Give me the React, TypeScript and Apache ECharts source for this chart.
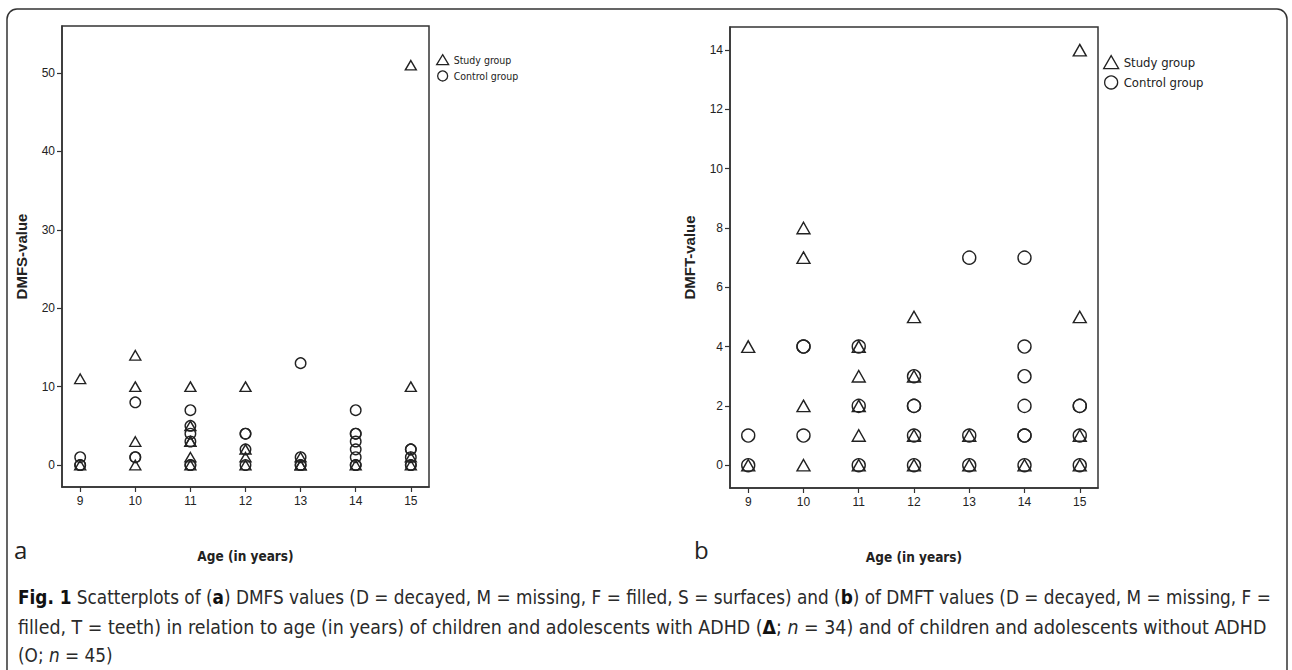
import React, { useEffect, useRef } from "react";
import * as echarts from "echarts";

// ---- data ----
const ages = [9, 10, 11, 12, 13, 14, 15];
// values per age (same order as ages)
const dmfsStudy = [[11, 0], [14, 10, 3, 0], [10, 5, 3, 3, 1, 0], [10, 2, 1, 0], [1, 0, 0], [0], [51, 10, 1, 0]];
const dmfsControl = [[1, 0, 0], [8, 1, 1], [7, 5, 4, 3, 0, 0], [4, 4, 2, 0], [13, 1, 0, 0], [7, 4, 4, 3, 2, 1, 0, 0], [2, 2, 1, 0, 0]];
const dmftStudy = [[4, 0], [8, 7, 2, 0], [4, 3, 2, 1, 0], [5, 3, 1, 0], [1, 0], [0], [14, 5, 1, 0]];
const dmftControl = [[1, 0], [4, 4, 1], [4, 2, 0], [3, 2, 2, 1, 0], [7, 1, 0], [7, 4, 3, 2, 1, 1, 0], [2, 2, 1, 0]];
const yTicksDMFS = [0, 10, 20, 30, 40, 50];
const yTicksDMFT = [0, 2, 4, 6, 8, 10, 12, 14];
const seriesNames = ["Study group", "Control group"];

const NARROW = "'Liberation Sans Narrow', 'DejaVu Sans Condensed', 'Arial Narrow', sans-serif";
const SANS = "'Liberation Sans', Arial, sans-serif";

function toPoints(groups: number[][]) {
  const out: number[][] = [];
  groups.forEach((vals, i) => vals.forEach((v) => out.push([ages[i], v])));
  return out;
}

export default function App() {
  const ref = useRef<HTMLDivElement>(null);
  useEffect(() => {
    if (!ref.current) return;
    const chart = echarts.init(ref.current, null, { renderer: "svg" });
    const stroke = "#222";
    const xAxisBase = (gridIndex: number) => ({
      type: "value",
      gridIndex,
      min: 8.67,
      max: 15.33,
      name: "Age (in years)",
      nameLocation: "middle",
      nameGap: 62,
      nameTextStyle: { fontFamily: NARROW, fontWeight: "bold", fontSize: 13.5, color: "#222" },
      axisLine: { show: true, onZero: false, lineStyle: { color: "#333", width: 1.5 } },
      axisTick: { show: true, inside: false, length: 5, customValues: ages, lineStyle: { color: "#333", width: 1.2 } },
      axisLabel: { customValues: ages, margin: 8, fontSize: 12, color: "#222", fontFamily: SANS },
      splitLine: { show: false },
    });
    const yAxisBase = (gridIndex: number, min: number, max: number, ticks: number[], name: string) => ({
      type: "value",
      gridIndex,
      min,
      max,
      name,
      nameLocation: "middle",
      nameRotate: 90,
      nameGap: 33,
      nameTextStyle: { fontFamily: SANS, fontWeight: "bold", fontSize: 15, color: "#222" },
      axisLine: { show: true, onZero: false, lineStyle: { color: "#333", width: 1.5 } },
      axisTick: { show: true, inside: false, length: 5, customValues: ticks, lineStyle: { color: "#333", width: 1.2 } },
      axisLabel: { customValues: ticks, margin: 7, fontSize: 12, color: "#222", fontFamily: SANS },
      splitLine: { show: false },
    });
    const mk = (name: string, xi: number, groups: number[][], symbol: string, size: any, z: number) => ({
      type: "scatter",
      name,
      xAxisIndex: xi,
      yAxisIndex: xi,
      data: toPoints(groups),
      symbol,
      symbolSize: size,
      itemStyle: { color: "rgba(0,0,0,0)", borderColor: stroke, borderWidth: 1.4, opacity: 1 },
      emphasis: { disabled: true },
      z,
    });
    const legendBase = (left: number, top: number, iw: number, ih: number, gap: number, fs: number) => ({
      left,
      top,
      orient: "vertical",
      padding: 0,
      itemWidth: iw,
      itemHeight: ih,
      itemGap: gap,
      selectedMode: false,
      data: [
        { name: seriesNames[0], icon: "triangle" },
        { name: seriesNames[1], icon: "circle" },
      ],
      itemStyle: { color: "rgba(0,0,0,0)", borderColor: stroke, borderWidth: 1.3 },
      textStyle: { fontFamily: NARROW, fontSize: fs, color: "#222" },
    });
    const cap = (y: number, size: number, text: string) => ({
      type: "text",
      x: 18,
      y,
      silent: true,
      style: {
        text,
        fontFamily: NARROW,
        fontSize: size,
        fill: "#2a2a2a",
        verticalAlign: "middle",
        align: "left",
        rich: {
          b: { fontFamily: NARROW, fontWeight: "bold", fontSize: size, fill: "#111" },
          i: { fontFamily: NARROW, fontStyle: "italic", fontSize: size, fill: "#2a2a2a" },
        },
      },
    });
    chart.setOption({
      animation: false,
      backgroundColor: "#fff",
      grid: [
        { left: 62, top: 26, width: 367, height: 461, show: true, borderColor: "#333", borderWidth: 1.5 },
        { left: 730, top: 27, width: 368, height: 461, show: true, borderColor: "#333", borderWidth: 1.5 },
      ],
      xAxis: [xAxisBase(0), xAxisBase(1)],
      yAxis: [
        yAxisBase(0, -2.8, 56, yTicksDMFS, "DMFS-value"),
        yAxisBase(1, -0.77, 14.78, yTicksDMFT, "DMFT-value"),
      ],
      legend: [legendBase(436, 54, 12, 10, 5, 10.5), legendBase(1103, 55, 15, 13, 6, 13)],
      series: [
        mk(seriesNames[1], 0, dmfsControl, "circle", 10.5, 2),
        mk(seriesNames[0], 0, dmfsStudy, "triangle", [11, 9.5], 3),
        mk(seriesNames[1], 1, dmftControl, "circle", 13, 2),
        mk(seriesNames[0], 1, dmftStudy, "triangle", [13, 11.5], 3),
      ],
      graphic: [
        { type: "rect", silent: true, z: -10, shape: { x: 7, y: 9, width: 1280, height: 700, r: 10 }, style: { fill: "none", stroke: "#333", lineWidth: 1.5 } },
        { type: "text", x: 14, y: 549, silent: true, style: { text: "a", fontFamily: "'Open Sans', sans-serif", fontSize: 24, fill: "#222", verticalAlign: "middle" } },
        { type: "text", x: 694, y: 549, silent: true, style: { text: "b", fontFamily: "'Open Sans', sans-serif", fontSize: 24, fill: "#222", verticalAlign: "middle" } },
        cap(597, 18.8, "{b|Fig. 1} Scatterplots of ({b|a}) DMFS values (D = decayed, M = missing, F = filled, S = surfaces) and ({b|b}) of DMFT values (D = decayed, M = missing, F ="),
        cap(627, 19.4, "filled, T = teeth) in relation to age (in years) of children and adolescents with ADHD ({b|Δ}; {i|n} = 34) and of children and adolescents without ADHD"),
        cap(655, 18.8, "(O; {i|n} = 45)"),
      ],
    });
    return () => chart.dispose();
  }, []);
  return (
    <div
      ref={ref}
      style={{ position: "fixed", left: 0, top: 0, width: 1292, height: 670, background: "#fff" }}
    />
  );
}
